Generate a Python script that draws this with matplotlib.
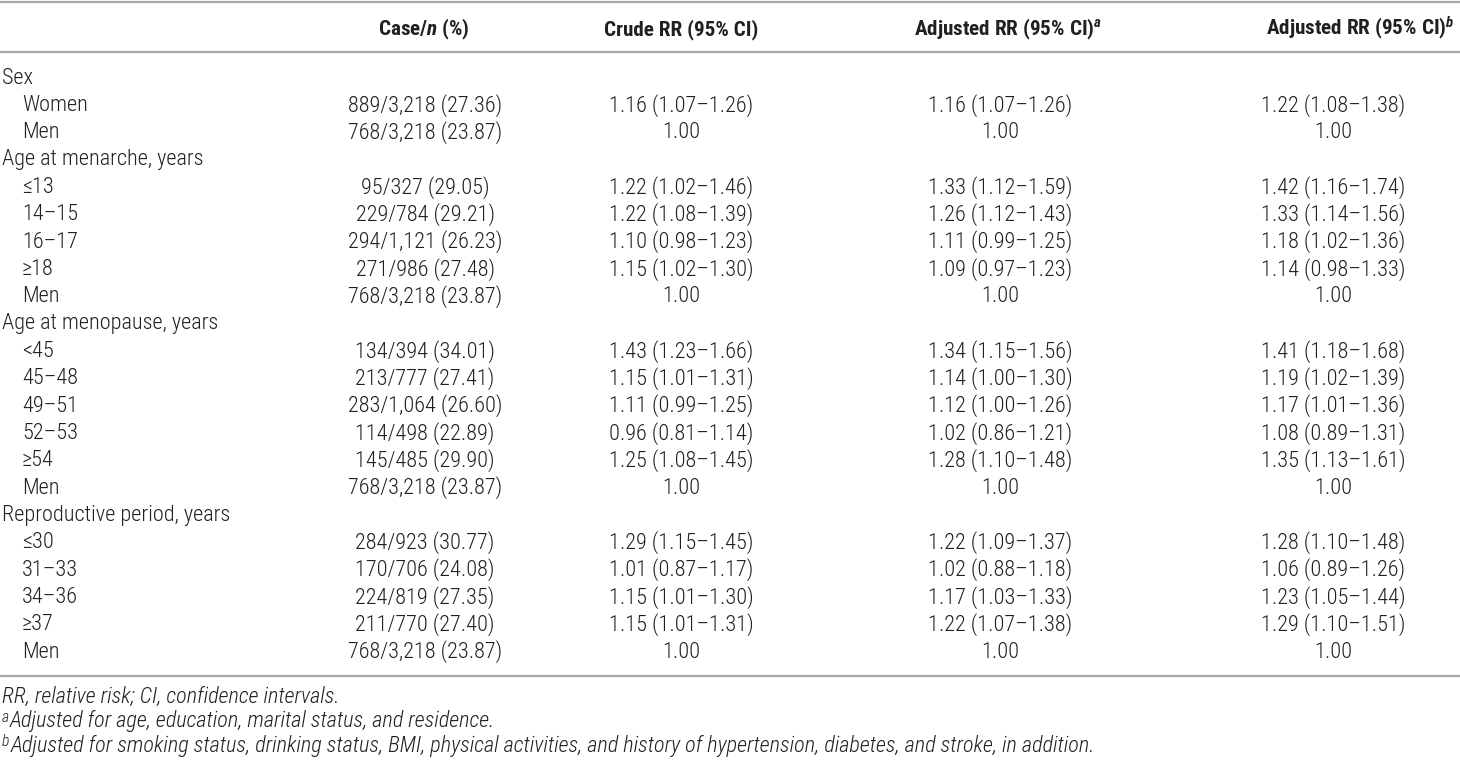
import matplotlib
matplotlib.use("Agg")
import matplotlib.pyplot as plt
from matplotlib import font_manager

# pick a condensed sans that is installed (reference uses Helvetica Condensed)
installed = {f.name for f in font_manager.fontManager.ttflist}
base = next((f for f in ["Roboto Condensed", "Archivo Narrow", "PT Sans Narrow",
                         "Asap Condensed", "Barlow Condensed"] if f in installed),
            "Liberation Sans")
FONT = [base, "DejaVu Sans"]
plt.rcParams.update({
    "font.family": FONT,
    "mathtext.fontset": "custom",
    "mathtext.rm": f"{base}:light",
    "mathtext.it": f"{base}:italic:light",
    "mathtext.bf": f"{base}:bold",
    "mathtext.bfit": f"{base}:italic:bold",
})

# table content
headers = [
    r"Case/$\mathbfit{n}$ (%)",
    "Crude RR (95% CI)",
    r"Adjusted RR (95% CI)$^{\mathbfit{a}}$",
    r"Adjusted RR (95% CI)$^{\mathbfit{b}}$",
]
row_labels = [
    "Sex", "Women", "Men",
    "Age at menarche, years", "≤13", "14–15", "16–17", "≥18", "Men",
    "Age at menopause, years", "<45", "45–48", "49–51", "52–53", "≥54", "Men",
    "Reproductive period, years", "≤30", "31–33", "34–36", "≥37", "Men",
]
group_rows = [0, 3, 9, 16]
case_n = [
    "", "889/3,218 (27.36)", "768/3,218 (23.87)",
    "", "95/327 (29.05)", "229/784 (29.21)", "294/1,121 (26.23)", "271/986 (27.48)", "768/3,218 (23.87)",
    "", "134/394 (34.01)", "213/777 (27.41)", "283/1,064 (26.60)", "114/498 (22.89)", "145/485 (29.90)", "768/3,218 (23.87)",
    "", "284/923 (30.77)", "170/706 (24.08)", "224/819 (27.35)", "211/770 (27.40)", "768/3,218 (23.87)",
]
crude_rr = [
    "", "1.16 (1.07–1.26)", "1.00",
    "", "1.22 (1.02–1.46)", "1.22 (1.08–1.39)", "1.10 (0.98–1.23)", "1.15 (1.02–1.30)", "1.00",
    "", "1.43 (1.23–1.66)", "1.15 (1.01–1.31)", "1.11 (0.99–1.25)", "0.96 (0.81–1.14)", "1.25 (1.08–1.45)", "1.00",
    "", "1.29 (1.15–1.45)", "1.01 (0.87–1.17)", "1.15 (1.01–1.30)", "1.15 (1.01–1.31)", "1.00",
]
adj_rr_a = [
    "", "1.16 (1.07–1.26)", "1.00",
    "", "1.33 (1.12–1.59)", "1.26 (1.12–1.43)", "1.11 (0.99–1.25)", "1.09 (0.97–1.23)", "1.00",
    "", "1.34 (1.15–1.56)", "1.14 (1.00–1.30)", "1.12 (1.00–1.26)", "1.02 (0.86–1.21)", "1.28 (1.10–1.48)", "1.00",
    "", "1.22 (1.09–1.37)", "1.02 (0.88–1.18)", "1.17 (1.03–1.33)", "1.22 (1.07–1.38)", "1.00",
]
adj_rr_b = [
    "", "1.22 (1.08–1.38)", "1.00",
    "", "1.42 (1.16–1.74)", "1.33 (1.14–1.56)", "1.18 (1.02–1.36)", "1.14 (0.98–1.33)", "1.00",
    "", "1.41 (1.18–1.68)", "1.19 (1.02–1.39)", "1.17 (1.01–1.36)", "1.08 (0.89–1.31)", "1.35 (1.13–1.61)", "1.00",
    "", "1.28 (1.10–1.48)", "1.06 (0.89–1.26)", "1.23 (1.05–1.44)", "1.29 (1.10–1.51)", "1.00",
]
footnote_marks = ["", "a", "b"]
footnotes = [
    "RR, relative risk; CI, confidence intervals.",
    "Adjusted for age, education, marital status, and residence.",
    "Adjusted for smoking status, drinking status, BMI, physical activities, "
    "and history of hypertension, diabetes, and stroke, in addition.",
]

W, H = 1460, 760
fig = plt.figure(figsize=(W / 100, H / 100), dpi=100)
ax = fig.add_axes([0, 0, 1, 1])
ax.set_xlim(0, W)
ax.set_ylim(H, 0)
ax.axis("off")

# scale the font so a body cell is as wide as in the reference (~155 px)
renderer = fig.canvas.get_renderer()
probe = ax.text(0, 0, case_n[1], fontsize=10, fontweight="light")
fsize = 10 * 155 / probe.get_window_extent(renderer).width
probe.remove()

ink = "#231f20"
rule = "#a8a8a8"

# rules
for y in (2, 52, 676):
    ax.plot([0, W], [y, y], color=rule, lw=1.6, solid_capstyle="butt")

# header
header_x = [424, 681, 1008, 1360]
for x, h in zip(header_x, headers):
    ax.text(x, 35, h, ha="center", va="baseline", fontsize=fsize * 0.95,
            fontweight="bold", color=ink)

# body
y0, y1 = 78, 652
dy = (y1 - y0) / (len(row_labels) - 1)
col_x = [425, 681, 1000, 1333]
columns = [case_n, crude_rr, adj_rr_a, adj_rr_b]
for i, label in enumerate(row_labels):
    y = y0 + i * dy
    x = 2 if i in group_rows else 22
    ax.text(x, y, label, ha="left", va="center", fontsize=fsize,
            fontweight="light", color=ink)
    for cx, col in zip(col_x, columns):
        if col[i]:
            ax.text(cx, y, col[i], ha="center", va="center",
                    fontsize=fsize, fontweight="light", color=ink)

# footnotes: superscript mark, then italic text
for j, (mark, note) in enumerate(zip(footnote_marks, footnotes)):
    yb = 703 + j * 24.5
    x = 2
    if mark:
        m = ax.text(x, yb - 6, mark, ha="left", va="baseline",
                    fontsize=fsize * 0.7, fontstyle="italic",
                    fontweight="light", color=ink)
        bb = m.get_window_extent(renderer)
        x += bb.width + 1
    ax.text(x, yb, note, ha="left", va="baseline", fontsize=fsize,
            fontstyle="italic", fontweight="light", color=ink)

fig.savefig("out.png", dpi=100)
